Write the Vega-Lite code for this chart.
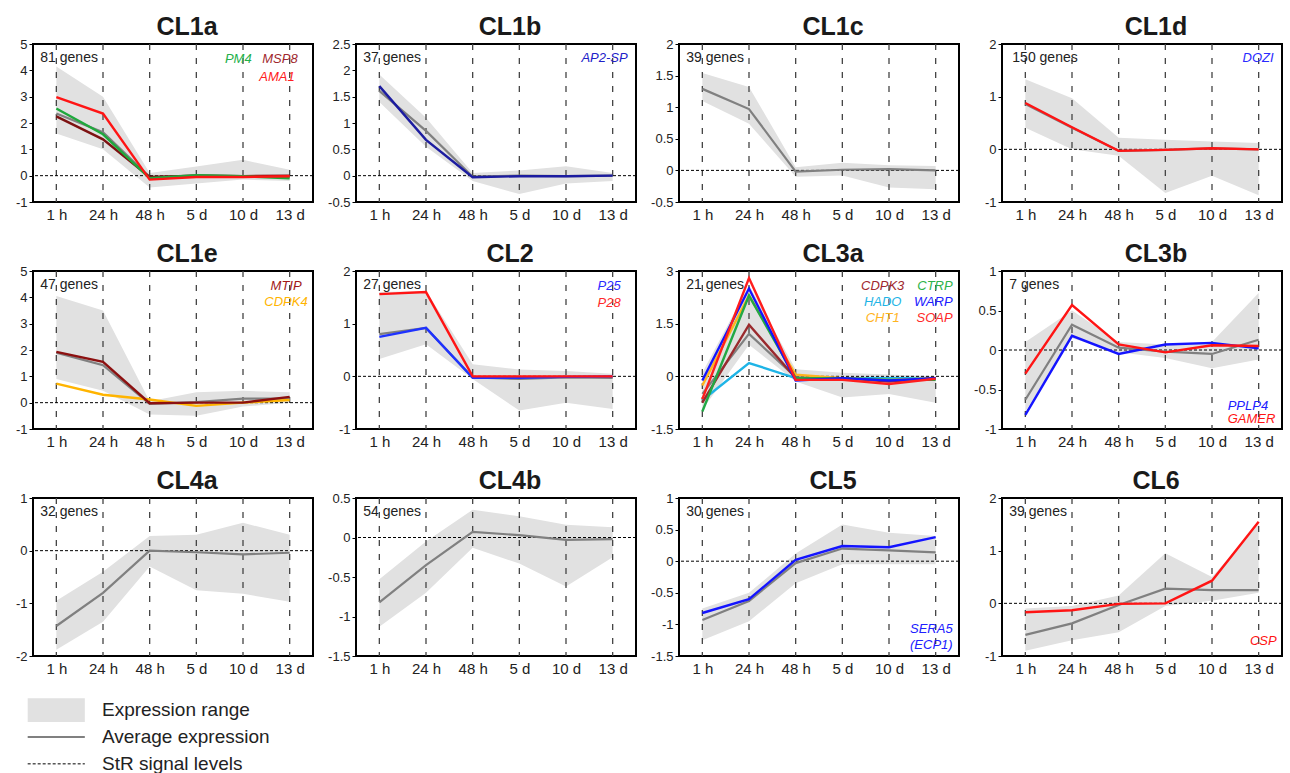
{
"$schema":"https://vega.github.io/schema/vega-lite/v6.json",
"background":"white",
"padding":{"left":14,"top":14,"right":2,"bottom":0},
"config":{
 "font":"Liberation Sans",
 "view":{"stroke":"#000","strokeWidth":2},
 "title":{"fontSize":25,"fontWeight":"bold","color":"#1a1a1a","offset":5,"dy":7,"anchor":"middle","frame":"group","dx":14},
 "axis":{"grid":false,"domain":false,"labelOverlap":false},
 "axisY":{"tickSize":4,"tickColor":"#000","labelFontSize":13,"labelColor":"#222","labelPadding":2,"labelOverlap":false,"tickCount":12},
 "axisX":{"ticks":false,"labelFontSize":15,"labelColor":"#222","labelPadding":5}
},
"datasets":{
"r":[
{"p":"CL1a","t":"1 h","lo":1.6,"hi":4.15},{"p":"CL1a","t":"24 h","lo":1.0,"hi":3.0},{"p":"CL1a","t":"48 h","lo":-0.45,"hi":0.1},{"p":"CL1a","t":"5 d","lo":-0.3,"hi":0.35},{"p":"CL1a","t":"10 d","lo":-0.15,"hi":0.6},{"p":"CL1a","t":"13 d","lo":-0.2,"hi":0.22},
{"p":"CL1b","t":"1 h","lo":1.4,"hi":1.92},{"p":"CL1b","t":"24 h","lo":0.55,"hi":1.1},{"p":"CL1b","t":"48 h","lo":-0.1,"hi":0.05},{"p":"CL1b","t":"5 d","lo":-0.35,"hi":0.1},{"p":"CL1b","t":"10 d","lo":-0.15,"hi":0.18},{"p":"CL1b","t":"13 d","lo":-0.1,"hi":0.05},
{"p":"CL1c","t":"1 h","lo":1.1,"hi":1.54},{"p":"CL1c","t":"24 h","lo":0.74,"hi":1.32},{"p":"CL1c","t":"48 h","lo":-0.1,"hi":0.05},{"p":"CL1c","t":"5 d","lo":-0.08,"hi":0.12},{"p":"CL1c","t":"10 d","lo":-0.27,"hi":0.08},{"p":"CL1c","t":"13 d","lo":-0.3,"hi":0.07},
{"p":"CL1d","t":"1 h","lo":0.41,"hi":1.33},{"p":"CL1d","t":"24 h","lo":0.0,"hi":0.97},{"p":"CL1d","t":"48 h","lo":-0.12,"hi":0.22},{"p":"CL1d","t":"5 d","lo":-0.83,"hi":0.18},{"p":"CL1d","t":"10 d","lo":-0.5,"hi":0.15},{"p":"CL1d","t":"13 d","lo":-0.87,"hi":0.12},
{"p":"CL1e","t":"1 h","lo":0.9,"hi":4.05},{"p":"CL1e","t":"24 h","lo":0.45,"hi":3.5},{"p":"CL1e","t":"48 h","lo":-0.45,"hi":0.05},{"p":"CL1e","t":"5 d","lo":-0.5,"hi":0.4},{"p":"CL1e","t":"10 d","lo":-0.15,"hi":0.45},{"p":"CL1e","t":"13 d","lo":0.0,"hi":0.4},
{"p":"CL2","t":"1 h","lo":0.33,"hi":1.6},{"p":"CL2","t":"24 h","lo":0.61,"hi":1.62},{"p":"CL2","t":"48 h","lo":-0.05,"hi":0.23},{"p":"CL2","t":"5 d","lo":-0.65,"hi":0.13},{"p":"CL2","t":"10 d","lo":-0.5,"hi":0.1},{"p":"CL2","t":"13 d","lo":-0.62,"hi":0.05},
{"p":"CL3a","t":"1 h","lo":-0.95,"hi":0.1},{"p":"CL3a","t":"24 h","lo":0.9,"hi":2.6},{"p":"CL3a","t":"48 h","lo":-0.15,"hi":0.2},{"p":"CL3a","t":"5 d","lo":-0.6,"hi":0.1},{"p":"CL3a","t":"10 d","lo":-0.5,"hi":0.05},{"p":"CL3a","t":"13 d","lo":-0.75,"hi":0.0},
{"p":"CL3b","t":"1 h","lo":-0.78,"hi":0.1},{"p":"CL3b","t":"24 h","lo":0.15,"hi":0.5},{"p":"CL3b","t":"48 h","lo":-0.03,"hi":0.1},{"p":"CL3b","t":"5 d","lo":-0.1,"hi":0.07},{"p":"CL3b","t":"10 d","lo":-0.23,"hi":0.1},{"p":"CL3b","t":"13 d","lo":-0.12,"hi":0.72},
{"p":"CL4a","t":"1 h","lo":-1.88,"hi":-0.95},{"p":"CL4a","t":"24 h","lo":-1.35,"hi":-0.4},{"p":"CL4a","t":"48 h","lo":-0.3,"hi":0.28},{"p":"CL4a","t":"5 d","lo":-0.75,"hi":0.3},{"p":"CL4a","t":"10 d","lo":-0.82,"hi":0.53},{"p":"CL4a","t":"13 d","lo":-0.97,"hi":0.3},
{"p":"CL4b","t":"1 h","lo":-1.13,"hi":-0.53},{"p":"CL4b","t":"24 h","lo":-0.7,"hi":-0.05},{"p":"CL4b","t":"48 h","lo":-0.13,"hi":0.35},{"p":"CL4b","t":"5 d","lo":-0.33,"hi":0.27},{"p":"CL4b","t":"10 d","lo":-0.62,"hi":0.16},{"p":"CL4b","t":"13 d","lo":-0.25,"hi":0.13},
{"p":"CL5","t":"1 h","lo":-1.25,"hi":-0.75},{"p":"CL5","t":"24 h","lo":-0.95,"hi":-0.5},{"p":"CL5","t":"48 h","lo":-0.35,"hi":0.12},{"p":"CL5","t":"5 d","lo":-0.05,"hi":0.58},{"p":"CL5","t":"10 d","lo":-0.05,"hi":0.45},{"p":"CL5","t":"13 d","lo":-0.05,"hi":0.4},
{"p":"CL6","t":"1 h","lo":-0.9,"hi":-0.1},{"p":"CL6","t":"24 h","lo":-0.7,"hi":-0.05},{"p":"CL6","t":"48 h","lo":-0.55,"hi":0.15},{"p":"CL6","t":"5 d","lo":-0.05,"hi":0.95},{"p":"CL6","t":"10 d","lo":0.05,"hi":0.5},{"p":"CL6","t":"13 d","lo":0.2,"hi":1.5}
],
"d":[
{"p":"CL1a","s":"avg","t":"1 h","v":2.36},{"p":"CL1a","s":"avg","t":"24 h","v":1.65},{"p":"CL1a","s":"avg","t":"48 h","v":-0.05},{"p":"CL1a","s":"avg","t":"5 d","v":0.0},{"p":"CL1a","s":"avg","t":"10 d","v":-0.02},{"p":"CL1a","s":"avg","t":"13 d","v":-0.03},
{"p":"CL1a","s":"MSP8","t":"1 h","v":2.25},{"p":"CL1a","s":"MSP8","t":"24 h","v":1.38},{"p":"CL1a","s":"MSP8","t":"48 h","v":-0.05},{"p":"CL1a","s":"MSP8","t":"5 d","v":0.0},{"p":"CL1a","s":"MSP8","t":"10 d","v":-0.02},{"p":"CL1a","s":"MSP8","t":"13 d","v":0.0},
{"p":"CL1a","s":"PM4","t":"1 h","v":2.55},{"p":"CL1a","s":"PM4","t":"24 h","v":1.57},{"p":"CL1a","s":"PM4","t":"48 h","v":-0.1},{"p":"CL1a","s":"PM4","t":"5 d","v":0.02},{"p":"CL1a","s":"PM4","t":"10 d","v":-0.02},{"p":"CL1a","s":"PM4","t":"13 d","v":-0.1},
{"p":"CL1a","s":"AMA1","t":"1 h","v":2.98},{"p":"CL1a","s":"AMA1","t":"24 h","v":2.36},{"p":"CL1a","s":"AMA1","t":"48 h","v":-0.15},{"p":"CL1a","s":"AMA1","t":"5 d","v":-0.05},{"p":"CL1a","s":"AMA1","t":"10 d","v":-0.05},{"p":"CL1a","s":"AMA1","t":"13 d","v":-0.02},
{"p":"CL1b","s":"avg","t":"1 h","v":1.61},{"p":"CL1b","s":"avg","t":"24 h","v":0.85},{"p":"CL1b","s":"avg","t":"48 h","v":-0.02},{"p":"CL1b","s":"avg","t":"5 d","v":0.0},{"p":"CL1b","s":"avg","t":"10 d","v":-0.01},{"p":"CL1b","s":"avg","t":"13 d","v":0.0},
{"p":"CL1b","s":"AP2-SP","t":"1 h","v":1.7},{"p":"CL1b","s":"AP2-SP","t":"24 h","v":0.68},{"p":"CL1b","s":"AP2-SP","t":"48 h","v":-0.03},{"p":"CL1b","s":"AP2-SP","t":"5 d","v":-0.01},{"p":"CL1b","s":"AP2-SP","t":"10 d","v":-0.01},{"p":"CL1b","s":"AP2-SP","t":"13 d","v":0.0},
{"p":"CL1c","s":"avg","t":"1 h","v":1.29},{"p":"CL1c","s":"avg","t":"24 h","v":0.97},{"p":"CL1c","s":"avg","t":"48 h","v":-0.02},{"p":"CL1c","s":"avg","t":"5 d","v":0.01},{"p":"CL1c","s":"avg","t":"10 d","v":0.02},{"p":"CL1c","s":"avg","t":"13 d","v":0.0},
{"p":"CL1d","s":"avg","t":"1 h","v":0.86},{"p":"CL1d","s":"avg","t":"24 h","v":0.41},{"p":"CL1d","s":"avg","t":"48 h","v":-0.03},{"p":"CL1d","s":"avg","t":"5 d","v":-0.01},{"p":"CL1d","s":"avg","t":"10 d","v":0.02},{"p":"CL1d","s":"avg","t":"13 d","v":0.0},
{"p":"CL1d","s":"DOZI","t":"1 h","v":0.88},{"p":"CL1d","s":"DOZI","t":"24 h","v":0.42},{"p":"CL1d","s":"DOZI","t":"48 h","v":-0.03},{"p":"CL1d","s":"DOZI","t":"5 d","v":-0.01},{"p":"CL1d","s":"DOZI","t":"10 d","v":0.02},{"p":"CL1d","s":"DOZI","t":"13 d","v":0.0},
{"p":"CL1e","s":"avg","t":"1 h","v":1.9},{"p":"CL1e","s":"avg","t":"24 h","v":1.42},{"p":"CL1e","s":"avg","t":"48 h","v":-0.05},{"p":"CL1e","s":"avg","t":"5 d","v":0.02},{"p":"CL1e","s":"avg","t":"10 d","v":0.15},{"p":"CL1e","s":"avg","t":"13 d","v":0.15},
{"p":"CL1e","s":"CDPK4","t":"1 h","v":0.72},{"p":"CL1e","s":"CDPK4","t":"24 h","v":0.3},{"p":"CL1e","s":"CDPK4","t":"48 h","v":0.12},{"p":"CL1e","s":"CDPK4","t":"5 d","v":-0.12},{"p":"CL1e","s":"CDPK4","t":"10 d","v":0.0},{"p":"CL1e","s":"CDPK4","t":"13 d","v":0.1},
{"p":"CL1e","s":"MTIP","t":"1 h","v":1.93},{"p":"CL1e","s":"MTIP","t":"24 h","v":1.55},{"p":"CL1e","s":"MTIP","t":"48 h","v":-0.02},{"p":"CL1e","s":"MTIP","t":"5 d","v":0.0},{"p":"CL1e","s":"MTIP","t":"10 d","v":0.0},{"p":"CL1e","s":"MTIP","t":"13 d","v":0.22},
{"p":"CL2","s":"avg","t":"1 h","v":0.8},{"p":"CL2","s":"avg","t":"24 h","v":0.92},{"p":"CL2","s":"avg","t":"48 h","v":-0.02},{"p":"CL2","s":"avg","t":"5 d","v":-0.05},{"p":"CL2","s":"avg","t":"10 d","v":-0.02},{"p":"CL2","s":"avg","t":"13 d","v":-0.03},
{"p":"CL2","s":"P25","t":"1 h","v":0.75},{"p":"CL2","s":"P25","t":"24 h","v":0.92},{"p":"CL2","s":"P25","t":"48 h","v":-0.03},{"p":"CL2","s":"P25","t":"5 d","v":-0.03},{"p":"CL2","s":"P25","t":"10 d","v":-0.01},{"p":"CL2","s":"P25","t":"13 d","v":0.0},
{"p":"CL2","s":"P28","t":"1 h","v":1.56},{"p":"CL2","s":"P28","t":"24 h","v":1.6},{"p":"CL2","s":"P28","t":"48 h","v":0.0},{"p":"CL2","s":"P28","t":"5 d","v":0.0},{"p":"CL2","s":"P28","t":"10 d","v":0.0},{"p":"CL2","s":"P28","t":"13 d","v":0.0},
{"p":"CL3a","s":"avg","t":"1 h","v":-0.5},{"p":"CL3a","s":"avg","t":"24 h","v":1.21},{"p":"CL3a","s":"avg","t":"48 h","v":-0.02},{"p":"CL3a","s":"avg","t":"5 d","v":-0.05},{"p":"CL3a","s":"avg","t":"10 d","v":-0.1},{"p":"CL3a","s":"avg","t":"13 d","v":-0.05},
{"p":"CL3a","s":"HADO","t":"1 h","v":-0.68},{"p":"CL3a","s":"HADO","t":"24 h","v":0.38},{"p":"CL3a","s":"HADO","t":"48 h","v":-0.05},{"p":"CL3a","s":"HADO","t":"5 d","v":-0.05},{"p":"CL3a","s":"HADO","t":"10 d","v":-0.05},{"p":"CL3a","s":"HADO","t":"13 d","v":-0.05},
{"p":"CL3a","s":"CHT1","t":"1 h","v":-0.26},{"p":"CL3a","s":"CHT1","t":"24 h","v":2.3},{"p":"CL3a","s":"CHT1","t":"48 h","v":0.05},{"p":"CL3a","s":"CHT1","t":"5 d","v":-0.05},{"p":"CL3a","s":"CHT1","t":"10 d","v":-0.1},{"p":"CL3a","s":"CHT1","t":"13 d","v":-0.05},
{"p":"CL3a","s":"CDPK3","t":"1 h","v":-0.75},{"p":"CL3a","s":"CDPK3","t":"24 h","v":1.47},{"p":"CL3a","s":"CDPK3","t":"48 h","v":-0.05},{"p":"CL3a","s":"CDPK3","t":"5 d","v":-0.05},{"p":"CL3a","s":"CDPK3","t":"10 d","v":-0.15},{"p":"CL3a","s":"CDPK3","t":"13 d","v":-0.05},
{"p":"CL3a","s":"CTRP","t":"1 h","v":-1.0},{"p":"CL3a","s":"CTRP","t":"24 h","v":2.3},{"p":"CL3a","s":"CTRP","t":"48 h","v":-0.05},{"p":"CL3a","s":"CTRP","t":"5 d","v":-0.05},{"p":"CL3a","s":"CTRP","t":"10 d","v":-0.1},{"p":"CL3a","s":"CTRP","t":"13 d","v":-0.1},
{"p":"CL3a","s":"WARP","t":"1 h","v":-0.12},{"p":"CL3a","s":"WARP","t":"24 h","v":2.5},{"p":"CL3a","s":"WARP","t":"48 h","v":-0.12},{"p":"CL3a","s":"WARP","t":"5 d","v":-0.05},{"p":"CL3a","s":"WARP","t":"10 d","v":-0.12},{"p":"CL3a","s":"WARP","t":"13 d","v":-0.05},
{"p":"CL3a","s":"SOAP","t":"1 h","v":-0.65},{"p":"CL3a","s":"SOAP","t":"24 h","v":2.8},{"p":"CL3a","s":"SOAP","t":"48 h","v":-0.1},{"p":"CL3a","s":"SOAP","t":"5 d","v":-0.1},{"p":"CL3a","s":"SOAP","t":"10 d","v":-0.22},{"p":"CL3a","s":"SOAP","t":"13 d","v":-0.07},
{"p":"CL3b","s":"avg","t":"1 h","v":-0.63},{"p":"CL3b","s":"avg","t":"24 h","v":0.32},{"p":"CL3b","s":"avg","t":"48 h","v":0.03},{"p":"CL3b","s":"avg","t":"5 d","v":-0.02},{"p":"CL3b","s":"avg","t":"10 d","v":-0.05},{"p":"CL3b","s":"avg","t":"13 d","v":0.13},
{"p":"CL3b","s":"PPLP4","t":"1 h","v":-0.82},{"p":"CL3b","s":"PPLP4","t":"24 h","v":0.18},{"p":"CL3b","s":"PPLP4","t":"48 h","v":-0.05},{"p":"CL3b","s":"PPLP4","t":"5 d","v":0.07},{"p":"CL3b","s":"PPLP4","t":"10 d","v":0.09},{"p":"CL3b","s":"PPLP4","t":"13 d","v":0.02},
{"p":"CL3b","s":"GAMER","t":"1 h","v":-0.3},{"p":"CL3b","s":"GAMER","t":"24 h","v":0.57},{"p":"CL3b","s":"GAMER","t":"48 h","v":0.07},{"p":"CL3b","s":"GAMER","t":"5 d","v":-0.03},{"p":"CL3b","s":"GAMER","t":"10 d","v":0.06},{"p":"CL3b","s":"GAMER","t":"13 d","v":0.05},
{"p":"CL4a","s":"avg","t":"1 h","v":-1.43},{"p":"CL4a","s":"avg","t":"24 h","v":-0.8},{"p":"CL4a","s":"avg","t":"48 h","v":0.0},{"p":"CL4a","s":"avg","t":"5 d","v":-0.03},{"p":"CL4a","s":"avg","t":"10 d","v":-0.07},{"p":"CL4a","s":"avg","t":"13 d","v":-0.04},
{"p":"CL4b","s":"avg","t":"1 h","v":-0.82},{"p":"CL4b","s":"avg","t":"24 h","v":-0.35},{"p":"CL4b","s":"avg","t":"48 h","v":0.07},{"p":"CL4b","s":"avg","t":"5 d","v":0.03},{"p":"CL4b","s":"avg","t":"10 d","v":-0.03},{"p":"CL4b","s":"avg","t":"13 d","v":-0.02},
{"p":"CL5","s":"avg","t":"1 h","v":-0.93},{"p":"CL5","s":"avg","t":"24 h","v":-0.63},{"p":"CL5","s":"avg","t":"48 h","v":-0.03},{"p":"CL5","s":"avg","t":"5 d","v":0.2},{"p":"CL5","s":"avg","t":"10 d","v":0.17},{"p":"CL5","s":"avg","t":"13 d","v":0.14},
{"p":"CL5","s":"SERA5","t":"1 h","v":-0.82},{"p":"CL5","s":"SERA5","t":"24 h","v":-0.6},{"p":"CL5","s":"SERA5","t":"48 h","v":0.02},{"p":"CL5","s":"SERA5","t":"5 d","v":0.24},{"p":"CL5","s":"SERA5","t":"10 d","v":0.22},{"p":"CL5","s":"SERA5","t":"13 d","v":0.38},
{"p":"CL6","s":"avg","t":"1 h","v":-0.6},{"p":"CL6","s":"avg","t":"24 h","v":-0.38},{"p":"CL6","s":"avg","t":"48 h","v":-0.03},{"p":"CL6","s":"avg","t":"5 d","v":0.28},{"p":"CL6","s":"avg","t":"10 d","v":0.25},{"p":"CL6","s":"avg","t":"13 d","v":0.25},
{"p":"CL6","s":"CSP","t":"1 h","v":-0.17},{"p":"CL6","s":"CSP","t":"24 h","v":-0.13},{"p":"CL6","s":"CSP","t":"48 h","v":-0.01},{"p":"CL6","s":"CSP","t":"5 d","v":0.0},{"p":"CL6","s":"CSP","t":"10 d","v":0.43},{"p":"CL6","s":"CSP","t":"13 d","v":1.55}
],
"n":[{"p":"CL1a","txt":"81 genes"},{"p":"CL1b","txt":"37 genes"},{"p":"CL1c","txt":"39 genes"},{"p":"CL1d","txt":"150 genes"},{"p":"CL1e","txt":"47 genes"},{"p":"CL2","txt":"27 genes"},{"p":"CL3a","txt":"21 genes"},{"p":"CL3b","txt":"7 genes"},{"p":"CL4a","txt":"32 genes"},{"p":"CL4b","txt":"54 genes"},{"p":"CL5","txt":"30 genes"},{"p":"CL6","txt":"39 genes"}],
"g":[{"p":"CL1a","s":"PM4","txt":"PM4"},{"p":"CL1a","s":"MSP8","txt":"MSP8"},{"p":"CL1a","s":"AMA1","txt":"AMA1"},{"p":"CL1b","s":"AP2-SP","txt":"AP2-SP"},{"p":"CL1d","s":"DOZI","txt":"DOZI"},{"p":"CL1e","s":"MTIP","txt":"MTIP"},{"p":"CL1e","s":"CDPK4","txt":"CDPK4"},{"p":"CL2","s":"P25","txt":"P25"},{"p":"CL2","s":"P28","txt":"P28"},{"p":"CL3a","s":"CDPK3","txt":"CDPK3"},{"p":"CL3a","s":"CTRP","txt":"CTRP"},{"p":"CL3a","s":"HADO","txt":"HADO"},{"p":"CL3a","s":"WARP","txt":"WARP"},{"p":"CL3a","s":"CHT1","txt":"CHT1"},{"p":"CL3a","s":"SOAP","txt":"SOAP"},{"p":"CL3b","s":"PPLP4","txt":"PPLP4"},{"p":"CL3b","s":"GAMER","txt":"GAMER"},{"p":"CL5","s":"SERA5","txt":"SERA5\n(ECP1)"},{"p":"CL6","s":"CSP","txt":"CSP"}],
"leg":[{"k":"Expression range"},{"k":"Average expression"},{"k":"StR signal levels"}]
},
"vconcat":[
{"columns":4,"spacing":{"row":18,"column":11},"concat":[
{"title":"CL1a","width":280,"height":158,"layer":[
 {"data":{"name":"r"},"transform":[{"filter":"datum.p=='CL1a'"}],"mark":{"type":"area","color":"#e1e1e1"},"encoding":{"x":{"field":"t","type":"ordinal","title":null,"sort":["1 h","24 h","48 h","5 d","10 d","13 d"],"scale":{"type":"point","padding":0.5,"domain":["1 h","24 h","48 h","5 d","10 d","13 d"]},"axis":{"labelAngle":0}},"y":{"field":"lo","type":"quantitative","title":null,"scale":{"domain":[-1,5],"nice":false,"zero":false},"axis":{"values":[-1,0,1,2,3,4,5],"tickCount":12,"labelOverlap":false,"labelExpr":"datum.value + ''"}},"y2":{"field":"hi"}}},
 {"data":{"name":"r"},"transform":[{"filter":"datum.p=='CL1a'"}],"mark":{"type":"rule","color":"#444","strokeDash":[6,8],"strokeWidth":1.3},"encoding":{"x":{"field":"t","type":"ordinal","title":null,"sort":["1 h","24 h","48 h","5 d","10 d","13 d"]}}},
 {"data":{"name":"n"},"transform":[{"filter":"datum.p=='CL1a'"}],"mark":{"type":"rule","color":"#000","strokeDash":[3,2],"strokeWidth":1},"encoding":{"y":{"datum":0,"type":"quantitative"}}},
 {"data":{"name":"d"},"transform":[{"filter":"datum.p=='CL1a' && datum.s=='avg'"}],"mark":{"type":"line","color":"#808080","strokeWidth":2.2},"encoding":{"x":{"field":"t","type":"ordinal","title":null,"sort":["1 h","24 h","48 h","5 d","10 d","13 d"]},"y":{"field":"v","type":"quantitative","title":null}}},
 {"data":{"name":"d"},"transform":[{"filter":"datum.p=='CL1a' && datum.s!='avg'"}],"mark":{"type":"line","strokeWidth":2.4},"encoding":{"x":{"field":"t","type":"ordinal","title":null,"sort":["1 h","24 h","48 h","5 d","10 d","13 d"]},"y":{"field":"v","type":"quantitative","title":null},"stroke":{"field":"s","type":"nominal","legend":null,"scale":{"domain":["PM4","MSP8","AMA1","AP2-SP","DOZI","MTIP","CDPK4","P25","P28","CDPK3","CTRP","HADO","WARP","CHT1","SOAP","PPLP4","GAMER","SERA5","CSP"],"range":["#1fa83c","#7d1212","#ff1414","#1c1ca0","#ff1414","#8c1010","#ffb400","#1e32ff","#ff1414","#9a2a2e","#22a845","#1eb4e6","#1414ff","#ffb41e","#ff1e1e","#1414ff","#ff1414","#1414ff","#ff1414"]}}}},
 {"data":{"name":"n"},"transform":[{"filter":"datum.p=='CL1a'"}],"mark":{"type":"text","align":"left","baseline":"middle","dx":-16,"dy":14,"fontSize":14,"color":"#222"},"encoding":{"x":{"datum":"1 h","type":"ordinal"},"y":{"datum":5,"type":"quantitative"},"text":{"field":"txt"}}},
 {"data":{"name":"g"},"transform":[{"filter":"datum.s=='PM4'"}],"mark":{"type":"text","align":"right","baseline":"middle","dx":-38,"dy":15,"fontSize":13,"fontStyle":"italic"},"encoding":{"x":{"datum":"13 d","type":"ordinal"},"y":{"datum":5,"type":"quantitative"},"text":{"field":"txt"},"fill":{"field":"s","type":"nominal","legend":null,"scale":{"domain":["PM4","MSP8","AMA1","AP2-SP","DOZI","MTIP","CDPK4","P25","P28","CDPK3","CTRP","HADO","WARP","CHT1","SOAP","PPLP4","GAMER","SERA5","CSP"],"range":["#22b04b","#a0282e","#ff2020","#2020c8","#2a2aff","#a01818","#ffb400","#2a2aff","#ff2a2a","#a0282e","#2db34a","#1eb4e6","#2020ff","#ffb41e","#ff2a2a","#2020ff","#ff1414","#2020ff","#ff1414"]}}}},
 {"data":{"name":"g"},"transform":[{"filter":"datum.s=='MSP8'"}],"mark":{"type":"text","align":"right","baseline":"middle","dx":8,"dy":15,"fontSize":13,"fontStyle":"italic"},"encoding":{"x":{"datum":"13 d","type":"ordinal"},"y":{"datum":5,"type":"quantitative"},"text":{"field":"txt"},"fill":{"field":"s","type":"nominal","legend":null}}},
 {"data":{"name":"g"},"transform":[{"filter":"datum.s=='AMA1'"}],"mark":{"type":"text","align":"right","baseline":"middle","dx":5,"dy":33,"fontSize":13,"fontStyle":"italic"},"encoding":{"x":{"datum":"13 d","type":"ordinal"},"y":{"datum":5,"type":"quantitative"},"text":{"field":"txt"},"fill":{"field":"s","type":"nominal","legend":null}}}
]},
{"title":"CL1b","width":280,"height":158,"layer":[
 {"data":{"name":"r"},"transform":[{"filter":"datum.p=='CL1b'"}],"mark":{"type":"area","color":"#e1e1e1"},"encoding":{"x":{"field":"t","type":"ordinal","title":null,"sort":["1 h","24 h","48 h","5 d","10 d","13 d"],"scale":{"type":"point","padding":0.5,"domain":["1 h","24 h","48 h","5 d","10 d","13 d"]},"axis":{"labelAngle":0}},"y":{"field":"lo","type":"quantitative","title":null,"scale":{"domain":[-0.5,2.5],"nice":false,"zero":false},"axis":{"values":[-0.5,0,0.5,1,1.5,2,2.5],"tickCount":12,"labelOverlap":false,"labelExpr":"datum.value + ''"}},"y2":{"field":"hi"}}},
 {"data":{"name":"r"},"transform":[{"filter":"datum.p=='CL1b'"}],"mark":{"type":"rule","color":"#444","strokeDash":[6,8],"strokeWidth":1.3},"encoding":{"x":{"field":"t","type":"ordinal","title":null,"sort":["1 h","24 h","48 h","5 d","10 d","13 d"]}}},
 {"data":{"name":"n"},"transform":[{"filter":"datum.p=='CL1b'"}],"mark":{"type":"rule","color":"#000","strokeDash":[3,2],"strokeWidth":1},"encoding":{"y":{"datum":0,"type":"quantitative"}}},
 {"data":{"name":"d"},"transform":[{"filter":"datum.p=='CL1b' && datum.s=='avg'"}],"mark":{"type":"line","color":"#808080","strokeWidth":2.2},"encoding":{"x":{"field":"t","type":"ordinal","title":null,"sort":["1 h","24 h","48 h","5 d","10 d","13 d"]},"y":{"field":"v","type":"quantitative","title":null}}},
 {"data":{"name":"d"},"transform":[{"filter":"datum.p=='CL1b' && datum.s!='avg'"}],"mark":{"type":"line","strokeWidth":2.4},"encoding":{"x":{"field":"t","type":"ordinal","title":null,"sort":["1 h","24 h","48 h","5 d","10 d","13 d"]},"y":{"field":"v","type":"quantitative","title":null},"stroke":{"field":"s","type":"nominal","legend":null}}},
 {"data":{"name":"n"},"transform":[{"filter":"datum.p=='CL1b'"}],"mark":{"type":"text","align":"left","baseline":"middle","dx":-16,"dy":14,"fontSize":14,"color":"#222"},"encoding":{"x":{"datum":"1 h","type":"ordinal"},"y":{"datum":2.5,"type":"quantitative"},"text":{"field":"txt"}}},
 {"data":{"name":"g"},"transform":[{"filter":"datum.s=='AP2-SP'"}],"mark":{"type":"text","align":"right","baseline":"middle","dx":15,"dy":14,"fontSize":13,"fontStyle":"italic"},"encoding":{"x":{"datum":"13 d","type":"ordinal"},"y":{"datum":2.5,"type":"quantitative"},"text":{"field":"txt"},"fill":{"field":"s","type":"nominal","legend":null}}}
]},
{"title":"CL1c","width":280,"height":158,"layer":[
 {"data":{"name":"r"},"transform":[{"filter":"datum.p=='CL1c'"}],"mark":{"type":"area","color":"#e1e1e1"},"encoding":{"x":{"field":"t","type":"ordinal","title":null,"sort":["1 h","24 h","48 h","5 d","10 d","13 d"],"scale":{"type":"point","padding":0.5,"domain":["1 h","24 h","48 h","5 d","10 d","13 d"]},"axis":{"labelAngle":0}},"y":{"field":"lo","type":"quantitative","title":null,"scale":{"domain":[-0.5,2],"nice":false,"zero":false},"axis":{"values":[-0.5,0,0.5,1,1.5,2],"tickCount":12,"labelOverlap":false,"labelExpr":"datum.value + ''"}},"y2":{"field":"hi"}}},
 {"data":{"name":"r"},"transform":[{"filter":"datum.p=='CL1c'"}],"mark":{"type":"rule","color":"#444","strokeDash":[6,8],"strokeWidth":1.3},"encoding":{"x":{"field":"t","type":"ordinal","title":null,"sort":["1 h","24 h","48 h","5 d","10 d","13 d"]}}},
 {"data":{"name":"n"},"transform":[{"filter":"datum.p=='CL1c'"}],"mark":{"type":"rule","color":"#000","strokeDash":[3,2],"strokeWidth":1},"encoding":{"y":{"datum":0,"type":"quantitative"}}},
 {"data":{"name":"d"},"transform":[{"filter":"datum.p=='CL1c' && datum.s=='avg'"}],"mark":{"type":"line","color":"#808080","strokeWidth":2.2},"encoding":{"x":{"field":"t","type":"ordinal","title":null,"sort":["1 h","24 h","48 h","5 d","10 d","13 d"]},"y":{"field":"v","type":"quantitative","title":null}}},
 {"data":{"name":"n"},"transform":[{"filter":"datum.p=='CL1c'"}],"mark":{"type":"text","align":"left","baseline":"middle","dx":-16,"dy":14,"fontSize":14,"color":"#222"},"encoding":{"x":{"datum":"1 h","type":"ordinal"},"y":{"datum":2,"type":"quantitative"},"text":{"field":"txt"}}}
]},
{"title":"CL1d","width":280,"height":158,"layer":[
 {"data":{"name":"r"},"transform":[{"filter":"datum.p=='CL1d'"}],"mark":{"type":"area","color":"#e1e1e1"},"encoding":{"x":{"field":"t","type":"ordinal","title":null,"sort":["1 h","24 h","48 h","5 d","10 d","13 d"],"scale":{"type":"point","padding":0.5,"domain":["1 h","24 h","48 h","5 d","10 d","13 d"]},"axis":{"labelAngle":0}},"y":{"field":"lo","type":"quantitative","title":null,"scale":{"domain":[-1,2],"nice":false,"zero":false},"axis":{"values":[-1,0,1,2],"tickCount":12,"labelOverlap":false,"labelExpr":"datum.value + ''"}},"y2":{"field":"hi"}}},
 {"data":{"name":"r"},"transform":[{"filter":"datum.p=='CL1d'"}],"mark":{"type":"rule","color":"#444","strokeDash":[6,8],"strokeWidth":1.3},"encoding":{"x":{"field":"t","type":"ordinal","title":null,"sort":["1 h","24 h","48 h","5 d","10 d","13 d"]}}},
 {"data":{"name":"n"},"transform":[{"filter":"datum.p=='CL1d'"}],"mark":{"type":"rule","color":"#000","strokeDash":[3,2],"strokeWidth":1},"encoding":{"y":{"datum":0,"type":"quantitative"}}},
 {"data":{"name":"d"},"transform":[{"filter":"datum.p=='CL1d' && datum.s=='avg'"}],"mark":{"type":"line","color":"#808080","strokeWidth":2.2},"encoding":{"x":{"field":"t","type":"ordinal","title":null,"sort":["1 h","24 h","48 h","5 d","10 d","13 d"]},"y":{"field":"v","type":"quantitative","title":null}}},
 {"data":{"name":"d"},"transform":[{"filter":"datum.p=='CL1d' && datum.s!='avg'"}],"mark":{"type":"line","strokeWidth":2.4},"encoding":{"x":{"field":"t","type":"ordinal","title":null,"sort":["1 h","24 h","48 h","5 d","10 d","13 d"]},"y":{"field":"v","type":"quantitative","title":null},"stroke":{"field":"s","type":"nominal","legend":null}}},
 {"data":{"name":"n"},"transform":[{"filter":"datum.p=='CL1d'"}],"mark":{"type":"text","align":"left","baseline":"middle","dx":-13,"dy":14,"fontSize":14,"color":"#222"},"encoding":{"x":{"datum":"1 h","type":"ordinal"},"y":{"datum":2,"type":"quantitative"},"text":{"field":"txt"}}},
 {"data":{"name":"g"},"transform":[{"filter":"datum.s=='DOZI'"}],"mark":{"type":"text","align":"right","baseline":"middle","dx":15,"dy":14,"fontSize":13,"fontStyle":"italic"},"encoding":{"x":{"datum":"13 d","type":"ordinal"},"y":{"datum":2,"type":"quantitative"},"text":{"field":"txt"},"fill":{"field":"s","type":"nominal","legend":null}}}
]},
{"title":"CL1e","width":280,"height":158,"layer":[
 {"data":{"name":"r"},"transform":[{"filter":"datum.p=='CL1e'"}],"mark":{"type":"area","color":"#e1e1e1"},"encoding":{"x":{"field":"t","type":"ordinal","title":null,"sort":["1 h","24 h","48 h","5 d","10 d","13 d"],"scale":{"type":"point","padding":0.5,"domain":["1 h","24 h","48 h","5 d","10 d","13 d"]},"axis":{"labelAngle":0}},"y":{"field":"lo","type":"quantitative","title":null,"scale":{"domain":[-1,5],"nice":false,"zero":false},"axis":{"values":[-1,0,1,2,3,4,5],"tickCount":12,"labelOverlap":false,"labelExpr":"datum.value + ''"}},"y2":{"field":"hi"}}},
 {"data":{"name":"r"},"transform":[{"filter":"datum.p=='CL1e'"}],"mark":{"type":"rule","color":"#444","strokeDash":[6,8],"strokeWidth":1.3},"encoding":{"x":{"field":"t","type":"ordinal","title":null,"sort":["1 h","24 h","48 h","5 d","10 d","13 d"]}}},
 {"data":{"name":"n"},"transform":[{"filter":"datum.p=='CL1e'"}],"mark":{"type":"rule","color":"#000","strokeDash":[3,2],"strokeWidth":1},"encoding":{"y":{"datum":0,"type":"quantitative"}}},
 {"data":{"name":"d"},"transform":[{"filter":"datum.p=='CL1e' && datum.s=='avg'"}],"mark":{"type":"line","color":"#808080","strokeWidth":2.2},"encoding":{"x":{"field":"t","type":"ordinal","title":null,"sort":["1 h","24 h","48 h","5 d","10 d","13 d"]},"y":{"field":"v","type":"quantitative","title":null}}},
 {"data":{"name":"d"},"transform":[{"filter":"datum.p=='CL1e' && datum.s!='avg'"}],"mark":{"type":"line","strokeWidth":2.4},"encoding":{"x":{"field":"t","type":"ordinal","title":null,"sort":["1 h","24 h","48 h","5 d","10 d","13 d"]},"y":{"field":"v","type":"quantitative","title":null},"stroke":{"field":"s","type":"nominal","legend":null}}},
 {"data":{"name":"n"},"transform":[{"filter":"datum.p=='CL1e'"}],"mark":{"type":"text","align":"left","baseline":"middle","dx":-16,"dy":14,"fontSize":14,"color":"#222"},"encoding":{"x":{"datum":"1 h","type":"ordinal"},"y":{"datum":5,"type":"quantitative"},"text":{"field":"txt"}}},
 {"data":{"name":"g"},"transform":[{"filter":"datum.s=='MTIP'"}],"mark":{"type":"text","align":"right","baseline":"middle","dx":12,"dy":15,"fontSize":13,"fontStyle":"italic"},"encoding":{"x":{"datum":"13 d","type":"ordinal"},"y":{"datum":5,"type":"quantitative"},"text":{"field":"txt"},"fill":{"field":"s","type":"nominal","legend":null}}},
 {"data":{"name":"g"},"transform":[{"filter":"datum.s=='CDPK4'"}],"mark":{"type":"text","align":"right","baseline":"middle","dx":18,"dy":31,"fontSize":13,"fontStyle":"italic"},"encoding":{"x":{"datum":"13 d","type":"ordinal"},"y":{"datum":5,"type":"quantitative"},"text":{"field":"txt"},"fill":{"field":"s","type":"nominal","legend":null}}}
]},
{"title":"CL2","width":280,"height":158,"layer":[
 {"data":{"name":"r"},"transform":[{"filter":"datum.p=='CL2'"}],"mark":{"type":"area","color":"#e1e1e1"},"encoding":{"x":{"field":"t","type":"ordinal","title":null,"sort":["1 h","24 h","48 h","5 d","10 d","13 d"],"scale":{"type":"point","padding":0.5,"domain":["1 h","24 h","48 h","5 d","10 d","13 d"]},"axis":{"labelAngle":0}},"y":{"field":"lo","type":"quantitative","title":null,"scale":{"domain":[-1,2],"nice":false,"zero":false},"axis":{"values":[-1,0,1,2],"tickCount":12,"labelOverlap":false,"labelExpr":"datum.value + ''"}},"y2":{"field":"hi"}}},
 {"data":{"name":"r"},"transform":[{"filter":"datum.p=='CL2'"}],"mark":{"type":"rule","color":"#444","strokeDash":[6,8],"strokeWidth":1.3},"encoding":{"x":{"field":"t","type":"ordinal","title":null,"sort":["1 h","24 h","48 h","5 d","10 d","13 d"]}}},
 {"data":{"name":"n"},"transform":[{"filter":"datum.p=='CL2'"}],"mark":{"type":"rule","color":"#000","strokeDash":[3,2],"strokeWidth":1},"encoding":{"y":{"datum":0,"type":"quantitative"}}},
 {"data":{"name":"d"},"transform":[{"filter":"datum.p=='CL2' && datum.s=='avg'"}],"mark":{"type":"line","color":"#808080","strokeWidth":2.2},"encoding":{"x":{"field":"t","type":"ordinal","title":null,"sort":["1 h","24 h","48 h","5 d","10 d","13 d"]},"y":{"field":"v","type":"quantitative","title":null}}},
 {"data":{"name":"d"},"transform":[{"filter":"datum.p=='CL2' && datum.s!='avg'"}],"mark":{"type":"line","strokeWidth":2.4},"encoding":{"x":{"field":"t","type":"ordinal","title":null,"sort":["1 h","24 h","48 h","5 d","10 d","13 d"]},"y":{"field":"v","type":"quantitative","title":null},"stroke":{"field":"s","type":"nominal","legend":null}}},
 {"data":{"name":"n"},"transform":[{"filter":"datum.p=='CL2'"}],"mark":{"type":"text","align":"left","baseline":"middle","dx":-16,"dy":14,"fontSize":14,"color":"#222"},"encoding":{"x":{"datum":"1 h","type":"ordinal"},"y":{"datum":2,"type":"quantitative"},"text":{"field":"txt"}}},
 {"data":{"name":"g"},"transform":[{"filter":"datum.s=='P25'"}],"mark":{"type":"text","align":"right","baseline":"middle","dx":8,"dy":15,"fontSize":13,"fontStyle":"italic"},"encoding":{"x":{"datum":"13 d","type":"ordinal"},"y":{"datum":2,"type":"quantitative"},"text":{"field":"txt"},"fill":{"field":"s","type":"nominal","legend":null}}},
 {"data":{"name":"g"},"transform":[{"filter":"datum.s=='P28'"}],"mark":{"type":"text","align":"right","baseline":"middle","dx":8,"dy":32,"fontSize":13,"fontStyle":"italic"},"encoding":{"x":{"datum":"13 d","type":"ordinal"},"y":{"datum":2,"type":"quantitative"},"text":{"field":"txt"},"fill":{"field":"s","type":"nominal","legend":null}}}
]},
{"title":"CL3a","width":280,"height":158,"layer":[
 {"data":{"name":"r"},"transform":[{"filter":"datum.p=='CL3a'"}],"mark":{"type":"area","color":"#e1e1e1"},"encoding":{"x":{"field":"t","type":"ordinal","title":null,"sort":["1 h","24 h","48 h","5 d","10 d","13 d"],"scale":{"type":"point","padding":0.5,"domain":["1 h","24 h","48 h","5 d","10 d","13 d"]},"axis":{"labelAngle":0}},"y":{"field":"lo","type":"quantitative","title":null,"scale":{"domain":[-1.5,3],"nice":false,"zero":false},"axis":{"values":[-1.5,0,1.5,3],"tickCount":12,"labelOverlap":false,"labelExpr":"datum.value + ''"}},"y2":{"field":"hi"}}},
 {"data":{"name":"r"},"transform":[{"filter":"datum.p=='CL3a'"}],"mark":{"type":"rule","color":"#444","strokeDash":[6,8],"strokeWidth":1.3},"encoding":{"x":{"field":"t","type":"ordinal","title":null,"sort":["1 h","24 h","48 h","5 d","10 d","13 d"]}}},
 {"data":{"name":"n"},"transform":[{"filter":"datum.p=='CL3a'"}],"mark":{"type":"rule","color":"#000","strokeDash":[3,2],"strokeWidth":1},"encoding":{"y":{"datum":0,"type":"quantitative"}}},
 {"data":{"name":"d"},"transform":[{"filter":"datum.p=='CL3a' && datum.s=='avg'"}],"mark":{"type":"line","color":"#808080","strokeWidth":2.2},"encoding":{"x":{"field":"t","type":"ordinal","title":null,"sort":["1 h","24 h","48 h","5 d","10 d","13 d"]},"y":{"field":"v","type":"quantitative","title":null}}},
 {"data":{"name":"d"},"transform":[{"filter":"datum.p=='CL3a' && datum.s!='avg'"}],"mark":{"type":"line","strokeWidth":2.4},"encoding":{"x":{"field":"t","type":"ordinal","title":null,"sort":["1 h","24 h","48 h","5 d","10 d","13 d"]},"y":{"field":"v","type":"quantitative","title":null},"stroke":{"field":"s","type":"nominal","legend":null}}},
 {"data":{"name":"n"},"transform":[{"filter":"datum.p=='CL3a'"}],"mark":{"type":"text","align":"left","baseline":"middle","dx":-16,"dy":14,"fontSize":14,"color":"#222"},"encoding":{"x":{"datum":"1 h","type":"ordinal"},"y":{"datum":3,"type":"quantitative"},"text":{"field":"txt"}}},
 {"data":{"name":"g"},"transform":[{"filter":"datum.s=='CDPK3'"}],"mark":{"type":"text","align":"center","baseline":"middle","dx":-53,"dy":15,"fontSize":13,"fontStyle":"italic"},"encoding":{"x":{"datum":"13 d","type":"ordinal"},"y":{"datum":3,"type":"quantitative"},"text":{"field":"txt"},"fill":{"field":"s","type":"nominal","legend":null}}},
 {"data":{"name":"g"},"transform":[{"filter":"datum.s=='HADO'"}],"mark":{"type":"text","align":"center","baseline":"middle","dx":-53,"dy":31,"fontSize":13,"fontStyle":"italic"},"encoding":{"x":{"datum":"13 d","type":"ordinal"},"y":{"datum":3,"type":"quantitative"},"text":{"field":"txt"},"fill":{"field":"s","type":"nominal","legend":null}}},
 {"data":{"name":"g"},"transform":[{"filter":"datum.s=='CHT1'"}],"mark":{"type":"text","align":"center","baseline":"middle","dx":-53,"dy":47,"fontSize":13,"fontStyle":"italic"},"encoding":{"x":{"datum":"13 d","type":"ordinal"},"y":{"datum":3,"type":"quantitative"},"text":{"field":"txt"},"fill":{"field":"s","type":"nominal","legend":null}}},
 {"data":{"name":"g"},"transform":[{"filter":"datum.s=='CTRP'"}],"mark":{"type":"text","align":"right","baseline":"middle","dx":17,"dy":15,"fontSize":13,"fontStyle":"italic"},"encoding":{"x":{"datum":"13 d","type":"ordinal"},"y":{"datum":3,"type":"quantitative"},"text":{"field":"txt"},"fill":{"field":"s","type":"nominal","legend":null}}},
 {"data":{"name":"g"},"transform":[{"filter":"datum.s=='WARP'"}],"mark":{"type":"text","align":"right","baseline":"middle","dx":17,"dy":31,"fontSize":13,"fontStyle":"italic"},"encoding":{"x":{"datum":"13 d","type":"ordinal"},"y":{"datum":3,"type":"quantitative"},"text":{"field":"txt"},"fill":{"field":"s","type":"nominal","legend":null}}},
 {"data":{"name":"g"},"transform":[{"filter":"datum.s=='SOAP'"}],"mark":{"type":"text","align":"right","baseline":"middle","dx":17,"dy":47,"fontSize":13,"fontStyle":"italic"},"encoding":{"x":{"datum":"13 d","type":"ordinal"},"y":{"datum":3,"type":"quantitative"},"text":{"field":"txt"},"fill":{"field":"s","type":"nominal","legend":null}}}
]},
{"title":"CL3b","width":280,"height":158,"layer":[
 {"data":{"name":"r"},"transform":[{"filter":"datum.p=='CL3b'"}],"mark":{"type":"area","color":"#e1e1e1"},"encoding":{"x":{"field":"t","type":"ordinal","title":null,"sort":["1 h","24 h","48 h","5 d","10 d","13 d"],"scale":{"type":"point","padding":0.5,"domain":["1 h","24 h","48 h","5 d","10 d","13 d"]},"axis":{"labelAngle":0}},"y":{"field":"lo","type":"quantitative","title":null,"scale":{"domain":[-1,1],"nice":false,"zero":false},"axis":{"values":[-1,-0.5,0,0.5,1],"tickCount":12,"labelOverlap":false,"labelExpr":"datum.value + ''"}},"y2":{"field":"hi"}}},
 {"data":{"name":"r"},"transform":[{"filter":"datum.p=='CL3b'"}],"mark":{"type":"rule","color":"#444","strokeDash":[6,8],"strokeWidth":1.3},"encoding":{"x":{"field":"t","type":"ordinal","title":null,"sort":["1 h","24 h","48 h","5 d","10 d","13 d"]}}},
 {"data":{"name":"n"},"transform":[{"filter":"datum.p=='CL3b'"}],"mark":{"type":"rule","color":"#000","strokeDash":[3,2],"strokeWidth":1},"encoding":{"y":{"datum":0,"type":"quantitative"}}},
 {"data":{"name":"d"},"transform":[{"filter":"datum.p=='CL3b' && datum.s=='avg'"}],"mark":{"type":"line","color":"#808080","strokeWidth":2.2},"encoding":{"x":{"field":"t","type":"ordinal","title":null,"sort":["1 h","24 h","48 h","5 d","10 d","13 d"]},"y":{"field":"v","type":"quantitative","title":null}}},
 {"data":{"name":"d"},"transform":[{"filter":"datum.p=='CL3b' && datum.s!='avg'"}],"mark":{"type":"line","strokeWidth":2.4},"encoding":{"x":{"field":"t","type":"ordinal","title":null,"sort":["1 h","24 h","48 h","5 d","10 d","13 d"]},"y":{"field":"v","type":"quantitative","title":null},"stroke":{"field":"s","type":"nominal","legend":null}}},
 {"data":{"name":"n"},"transform":[{"filter":"datum.p=='CL3b'"}],"mark":{"type":"text","align":"left","baseline":"middle","dx":-16,"dy":14,"fontSize":14,"color":"#222"},"encoding":{"x":{"datum":"1 h","type":"ordinal"},"y":{"datum":1,"type":"quantitative"},"text":{"field":"txt"}}},
 {"data":{"name":"g"},"transform":[{"filter":"datum.s=='PPLP4'"}],"mark":{"type":"text","align":"left","baseline":"middle","dx":-31,"dy":-23,"fontSize":13,"fontStyle":"italic"},"encoding":{"x":{"datum":"13 d","type":"ordinal"},"y":{"datum":-1,"type":"quantitative"},"text":{"field":"txt"},"fill":{"field":"s","type":"nominal","legend":null}}},
 {"data":{"name":"g"},"transform":[{"filter":"datum.s=='GAMER'"}],"mark":{"type":"text","align":"left","baseline":"middle","dx":-31,"dy":-10,"fontSize":13,"fontStyle":"italic"},"encoding":{"x":{"datum":"13 d","type":"ordinal"},"y":{"datum":-1,"type":"quantitative"},"text":{"field":"txt"},"fill":{"field":"s","type":"nominal","legend":null}}}
]},
{"title":"CL4a","width":280,"height":158,"layer":[
 {"data":{"name":"r"},"transform":[{"filter":"datum.p=='CL4a'"}],"mark":{"type":"area","color":"#e1e1e1"},"encoding":{"x":{"field":"t","type":"ordinal","title":null,"sort":["1 h","24 h","48 h","5 d","10 d","13 d"],"scale":{"type":"point","padding":0.5,"domain":["1 h","24 h","48 h","5 d","10 d","13 d"]},"axis":{"labelAngle":0}},"y":{"field":"lo","type":"quantitative","title":null,"scale":{"domain":[-2,1],"nice":false,"zero":false},"axis":{"values":[-2,-1,0,1],"tickCount":12,"labelOverlap":false,"labelExpr":"datum.value + ''"}},"y2":{"field":"hi"}}},
 {"data":{"name":"r"},"transform":[{"filter":"datum.p=='CL4a'"}],"mark":{"type":"rule","color":"#444","strokeDash":[6,8],"strokeWidth":1.3},"encoding":{"x":{"field":"t","type":"ordinal","title":null,"sort":["1 h","24 h","48 h","5 d","10 d","13 d"]}}},
 {"data":{"name":"n"},"transform":[{"filter":"datum.p=='CL4a'"}],"mark":{"type":"rule","color":"#000","strokeDash":[3,2],"strokeWidth":1},"encoding":{"y":{"datum":0,"type":"quantitative"}}},
 {"data":{"name":"d"},"transform":[{"filter":"datum.p=='CL4a' && datum.s=='avg'"}],"mark":{"type":"line","color":"#808080","strokeWidth":2.2},"encoding":{"x":{"field":"t","type":"ordinal","title":null,"sort":["1 h","24 h","48 h","5 d","10 d","13 d"]},"y":{"field":"v","type":"quantitative","title":null}}},
 {"data":{"name":"n"},"transform":[{"filter":"datum.p=='CL4a'"}],"mark":{"type":"text","align":"left","baseline":"middle","dx":-16,"dy":14,"fontSize":14,"color":"#222"},"encoding":{"x":{"datum":"1 h","type":"ordinal"},"y":{"datum":1,"type":"quantitative"},"text":{"field":"txt"}}}
]},
{"title":"CL4b","width":280,"height":158,"layer":[
 {"data":{"name":"r"},"transform":[{"filter":"datum.p=='CL4b'"}],"mark":{"type":"area","color":"#e1e1e1"},"encoding":{"x":{"field":"t","type":"ordinal","title":null,"sort":["1 h","24 h","48 h","5 d","10 d","13 d"],"scale":{"type":"point","padding":0.5,"domain":["1 h","24 h","48 h","5 d","10 d","13 d"]},"axis":{"labelAngle":0}},"y":{"field":"lo","type":"quantitative","title":null,"scale":{"domain":[-1.5,0.5],"nice":false,"zero":false},"axis":{"values":[-1.5,-1,-0.5,0,0.5],"tickCount":12,"labelOverlap":false,"labelExpr":"datum.value + ''"}},"y2":{"field":"hi"}}},
 {"data":{"name":"r"},"transform":[{"filter":"datum.p=='CL4b'"}],"mark":{"type":"rule","color":"#444","strokeDash":[6,8],"strokeWidth":1.3},"encoding":{"x":{"field":"t","type":"ordinal","title":null,"sort":["1 h","24 h","48 h","5 d","10 d","13 d"]}}},
 {"data":{"name":"n"},"transform":[{"filter":"datum.p=='CL4b'"}],"mark":{"type":"rule","color":"#000","strokeDash":[3,2],"strokeWidth":1},"encoding":{"y":{"datum":0,"type":"quantitative"}}},
 {"data":{"name":"d"},"transform":[{"filter":"datum.p=='CL4b' && datum.s=='avg'"}],"mark":{"type":"line","color":"#808080","strokeWidth":2.2},"encoding":{"x":{"field":"t","type":"ordinal","title":null,"sort":["1 h","24 h","48 h","5 d","10 d","13 d"]},"y":{"field":"v","type":"quantitative","title":null}}},
 {"data":{"name":"n"},"transform":[{"filter":"datum.p=='CL4b'"}],"mark":{"type":"text","align":"left","baseline":"middle","dx":-16,"dy":14,"fontSize":14,"color":"#222"},"encoding":{"x":{"datum":"1 h","type":"ordinal"},"y":{"datum":0.5,"type":"quantitative"},"text":{"field":"txt"}}}
]},
{"title":"CL5","width":280,"height":158,"layer":[
 {"data":{"name":"r"},"transform":[{"filter":"datum.p=='CL5'"}],"mark":{"type":"area","color":"#e1e1e1"},"encoding":{"x":{"field":"t","type":"ordinal","title":null,"sort":["1 h","24 h","48 h","5 d","10 d","13 d"],"scale":{"type":"point","padding":0.5,"domain":["1 h","24 h","48 h","5 d","10 d","13 d"]},"axis":{"labelAngle":0}},"y":{"field":"lo","type":"quantitative","title":null,"scale":{"domain":[-1.5,1],"nice":false,"zero":false},"axis":{"values":[-1.5,-1,-0.5,0,0.5,1],"tickCount":12,"labelOverlap":false,"labelExpr":"datum.value + ''"}},"y2":{"field":"hi"}}},
 {"data":{"name":"r"},"transform":[{"filter":"datum.p=='CL5'"}],"mark":{"type":"rule","color":"#444","strokeDash":[6,8],"strokeWidth":1.3},"encoding":{"x":{"field":"t","type":"ordinal","title":null,"sort":["1 h","24 h","48 h","5 d","10 d","13 d"]}}},
 {"data":{"name":"n"},"transform":[{"filter":"datum.p=='CL5'"}],"mark":{"type":"rule","color":"#000","strokeDash":[3,2],"strokeWidth":1},"encoding":{"y":{"datum":0,"type":"quantitative"}}},
 {"data":{"name":"d"},"transform":[{"filter":"datum.p=='CL5' && datum.s=='avg'"}],"mark":{"type":"line","color":"#808080","strokeWidth":2.2},"encoding":{"x":{"field":"t","type":"ordinal","title":null,"sort":["1 h","24 h","48 h","5 d","10 d","13 d"]},"y":{"field":"v","type":"quantitative","title":null}}},
 {"data":{"name":"d"},"transform":[{"filter":"datum.p=='CL5' && datum.s!='avg'"}],"mark":{"type":"line","strokeWidth":2.4},"encoding":{"x":{"field":"t","type":"ordinal","title":null,"sort":["1 h","24 h","48 h","5 d","10 d","13 d"]},"y":{"field":"v","type":"quantitative","title":null},"stroke":{"field":"s","type":"nominal","legend":null}}},
 {"data":{"name":"n"},"transform":[{"filter":"datum.p=='CL5'"}],"mark":{"type":"text","align":"left","baseline":"middle","dx":-16,"dy":14,"fontSize":14,"color":"#222"},"encoding":{"x":{"datum":"1 h","type":"ordinal"},"y":{"datum":1,"type":"quantitative"},"text":{"field":"txt"}}},
 {"data":{"name":"g"},"transform":[{"filter":"datum.s=='SERA5'"}],"mark":{"type":"text","align":"right","baseline":"middle","lineBreak":"\n","lineHeight":16,"dx":17,"dy":-27,"fontSize":13,"fontStyle":"italic"},"encoding":{"x":{"datum":"13 d","type":"ordinal"},"y":{"datum":-1.5,"type":"quantitative"},"text":{"field":"txt"},"fill":{"field":"s","type":"nominal","legend":null}}}
]},
{"title":"CL6","width":280,"height":158,"layer":[
 {"data":{"name":"r"},"transform":[{"filter":"datum.p=='CL6'"}],"mark":{"type":"area","color":"#e1e1e1"},"encoding":{"x":{"field":"t","type":"ordinal","title":null,"sort":["1 h","24 h","48 h","5 d","10 d","13 d"],"scale":{"type":"point","padding":0.5,"domain":["1 h","24 h","48 h","5 d","10 d","13 d"]},"axis":{"labelAngle":0}},"y":{"field":"lo","type":"quantitative","title":null,"scale":{"domain":[-1,2],"nice":false,"zero":false},"axis":{"values":[-1,0,1,2],"tickCount":12,"labelOverlap":false,"labelExpr":"datum.value + ''"}},"y2":{"field":"hi"}}},
 {"data":{"name":"r"},"transform":[{"filter":"datum.p=='CL6'"}],"mark":{"type":"rule","color":"#444","strokeDash":[6,8],"strokeWidth":1.3},"encoding":{"x":{"field":"t","type":"ordinal","title":null,"sort":["1 h","24 h","48 h","5 d","10 d","13 d"]}}},
 {"data":{"name":"n"},"transform":[{"filter":"datum.p=='CL6'"}],"mark":{"type":"rule","color":"#000","strokeDash":[3,2],"strokeWidth":1},"encoding":{"y":{"datum":0,"type":"quantitative"}}},
 {"data":{"name":"d"},"transform":[{"filter":"datum.p=='CL6' && datum.s=='avg'"}],"mark":{"type":"line","color":"#808080","strokeWidth":2.2},"encoding":{"x":{"field":"t","type":"ordinal","title":null,"sort":["1 h","24 h","48 h","5 d","10 d","13 d"]},"y":{"field":"v","type":"quantitative","title":null}}},
 {"data":{"name":"d"},"transform":[{"filter":"datum.p=='CL6' && datum.s!='avg'"}],"mark":{"type":"line","strokeWidth":2.4},"encoding":{"x":{"field":"t","type":"ordinal","title":null,"sort":["1 h","24 h","48 h","5 d","10 d","13 d"]},"y":{"field":"v","type":"quantitative","title":null},"stroke":{"field":"s","type":"nominal","legend":null}}},
 {"data":{"name":"n"},"transform":[{"filter":"datum.p=='CL6'"}],"mark":{"type":"text","align":"left","baseline":"middle","dx":-16,"dy":14,"fontSize":14,"color":"#222"},"encoding":{"x":{"datum":"1 h","type":"ordinal"},"y":{"datum":2,"type":"quantitative"},"text":{"field":"txt"}}},
 {"data":{"name":"g"},"transform":[{"filter":"datum.s=='CSP'"}],"mark":{"type":"text","align":"right","baseline":"middle","dx":18,"dy":-15,"fontSize":13,"fontStyle":"italic"},"encoding":{"x":{"datum":"13 d","type":"ordinal"},"y":{"datum":-1,"type":"quantitative"},"text":{"field":"txt"},"fill":{"field":"s","type":"nominal","legend":null}}}
]}
]},
{"width":420,"height":80,"view":{"stroke":null},"data":{"name":"leg"},"layer":[
 {"transform":[{"filter":"datum.k=='Expression range'"}],"mark":{"type":"rect","color":"#e1e1e1"},"encoding":{"x":{"datum":0,"type":"quantitative","scale":{"domain":[0.093,7.443],"nice":false,"zero":false},"axis":null},"x2":{"datum":1},"y":{"field":"k","type":"nominal","sort":null,"scale":{"domain":["Expression range","Average expression","StR signal levels"],"paddingInner":0.12,"paddingOuter":0.05},"axis":null}}},
 {"transform":[{"filter":"datum.k=='Average expression'"}],"mark":{"type":"rule","color":"#808080","strokeWidth":2.2},"encoding":{"x":{"datum":0,"type":"quantitative"},"x2":{"datum":1},"y":{"field":"k","type":"nominal","bandPosition":0.5}}},
 {"transform":[{"filter":"datum.k=='StR signal levels'"}],"mark":{"type":"rule","color":"#000","strokeWidth":1,"strokeDash":[3,2]},"encoding":{"x":{"datum":0,"type":"quantitative"},"x2":{"datum":1},"y":{"field":"k","type":"nominal","bandPosition":0.5}}},
 {"mark":{"type":"text","align":"left","baseline":"middle","fontSize":19,"color":"#222"},"encoding":{"x":{"datum":1.3,"type":"quantitative"},"y":{"field":"k","type":"nominal","bandPosition":0.5},"text":{"field":"k"}}}
]}
],
"spacing":20
}
